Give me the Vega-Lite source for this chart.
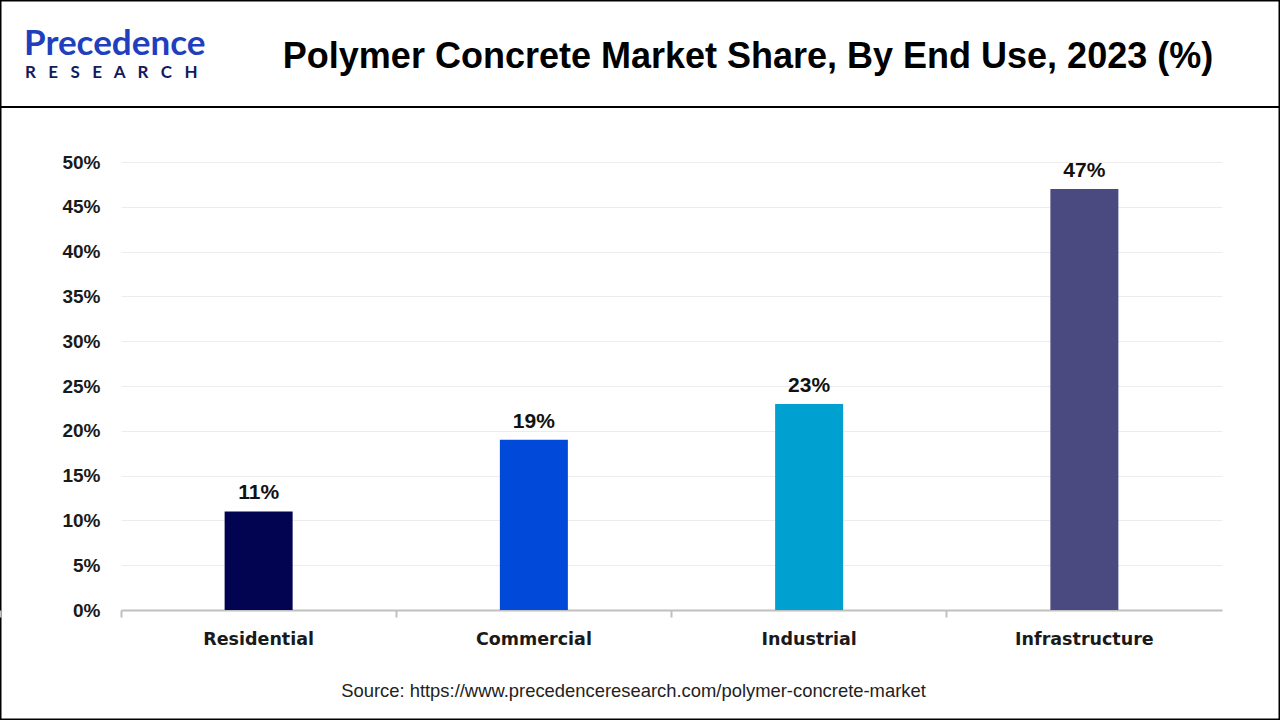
{
  "$schema": "https://vega.github.io/schema/vega-lite/v6.json",
  "width": 1280,
  "height": 720,
  "autosize": "none",
  "padding": 0,
  "background": "#ffffff",
  "config": {
    "view": {"stroke": "#000000", "strokeWidth": 3},
    "font": "Liberation Sans"
  },
  "title": {
    "text": "Polymer Concrete Market Share, By End Use, 2023 (%)",
    "anchor": "middle",
    "frame": "group",
    "dx": 108,
    "offset": -104,
    "baseline": "alphabetic",
    "font": "Liberation Sans",
    "fontSize": 36,
    "fontWeight": "bold",
    "color": "#000000"
  },
  "data": {
    "values": [
      {"end_use": "Residential", "share": 0.11},
      {"end_use": "Commercial", "share": 0.19},
      {"end_use": "Industrial", "share": 0.23},
      {"end_use": "Infrastructure", "share": 0.47}
    ]
  },
  "layer": [
    {
      "mark": {"type": "bar", "width": 68},
      "encoding": {
        "x": {
          "field": "end_use",
          "type": "nominal",
          "sort": null,
          "scale": {"domain": ["Residential", "Commercial", "Industrial", "Infrastructure"], "range": [121, 1222], "paddingInner": 0, "paddingOuter": 0},
          "axis": {
            "orient": "bottom",
            "offset": -110,
            "bandPosition": 0,
            "tickExtra": true,
            "domainColor": "#c0c0c0",
            "domainWidth": 2,
            "tickColor": "#c0c0c0",
            "tickWidth": 2,
            "tickSize": 7,
            "labelAngle": 0,
            "labelFont": "DejaVu Sans",
            "labelFontSize": 17.5,
            "labelFontWeight": "bold",
            "labelColor": "#1a1a1a",
            "labelPadding": 13,
            "title": "Source: https://www.precedenceresearch.com/polymer-concrete-market",
            "titleFont": "Liberation Sans",
            "titleFontSize": 18.4,
            "titleFontWeight": "normal",
            "titleColor": "#222222",
            "titlePadding": 34,
            "titleX": 633,
            "grid": false
          }
        },
        "y": {
          "field": "share",
          "type": "quantitative",
          "scale": {"domain": [0, 0.5], "range": [610, 162], "nice": false, "zero": true},
          "axis": {
            "orient": "left",
            "offset": -121,
            "values": [0, 0.05, 0.1, 0.15, 0.2, 0.25, 0.3, 0.35, 0.4, 0.45, 0.5],
            "format": ".0%",
            "domain": false,
            "ticks": false,
            "labelPadding": 21,
            "labelFont": "Liberation Sans",
            "labelFontSize": 19,
            "labelFontWeight": "bold",
            "labelColor": "#1a1a1a",
            "grid": true,
            "gridColor": "#ececec",
            "gridWidth": 1,
            "title": null
          }
        },
        "color": {
          "field": "end_use",
          "type": "nominal",
          "scale": {
            "domain": ["Residential", "Commercial", "Industrial", "Infrastructure"],
            "range": ["#020452", "#0049d9", "#00a0d1", "#4b4a80"]
          },
          "legend": null
        }
      }
    },
    {
      "mark": {"type": "text", "baseline": "alphabetic", "dy": -12, "font": "Liberation Sans", "fontSize": 21, "fontWeight": "bold", "color": "#111111"},
      "encoding": {
        "x": {"field": "end_use", "type": "nominal", "sort": null},
        "y": {"field": "share", "type": "quantitative"},
        "text": {"field": "share", "type": "quantitative", "format": ".0%"}
      }
    },
    {
      "data": {"values": [{"sep": 0.5614}]},
      "mark": {"type": "rule", "color": "#000000", "strokeWidth": 2},
      "encoding": {"y": {"field": "sep", "type": "quantitative"}}
    },
    {
      "data": {"values": [{"brand": "Precedence", "pos": 0.6194, "anchor": "Residential"}]},
      "mark": {"type": "text", "align": "left", "baseline": "alphabetic", "dx": -97, "font": "Lato", "fontSize": 35, "fontWeight": "bold", "color": "#1f3fbf"},
      "encoding": {
        "x": {"field": "anchor", "type": "nominal", "bandPosition": 0},
        "y": {"field": "pos", "type": "quantitative"},
        "text": {"field": "brand"}
      }
    },
    {
      "data": {"values": [{"brand": "R\u00a0\u00a0\u00a0E\u00a0\u00a0\u00a0S\u00a0\u00a0\u00a0E\u00a0\u00a0\u00a0A\u00a0\u00a0\u00a0R\u00a0\u00a0\u00a0C\u00a0\u00a0\u00a0H", "pos": 0.5938, "anchor": "Residential"}]},
      "mark": {"type": "text", "align": "left", "baseline": "alphabetic", "dx": -96, "font": "Lato", "fontSize": 17, "fontWeight": "bold", "color": "#141a5c"},
      "encoding": {
        "x": {"field": "anchor", "type": "nominal", "bandPosition": 0},
        "y": {"field": "pos", "type": "quantitative"},
        "text": {"field": "brand"}
      }
    }
  ]
}
